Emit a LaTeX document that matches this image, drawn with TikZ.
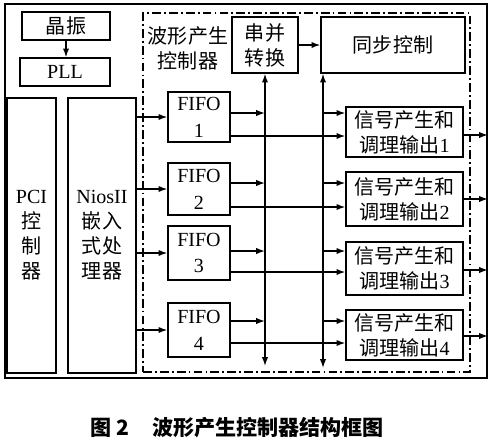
\documentclass[tikz,border=0pt]{standalone}
\usepackage{fontspec}
\setmainfont{Noto Sans CJK SC}
\newfontfamily\lat{Liberation Serif}
\usetikzlibrary{arrows.meta}
\begin{document}
\begin{tikzpicture}[x=0.02cm,y=-0.02cm,
  txt/.style={font=\fontsize{11.4}{14.2}\selectfont},
  box/.style={draw, line width=0.8pt, inner sep=0pt, align=center, txt},
  fifo/.style={box, font=\lat\fontsize{11.4}{15.3}\selectfont},
  sz/.style 2 args={minimum width=#1*0.02cm, minimum height=#2*0.02cm},
  arr/.style={line width=0.8pt, -{Latex[length=5pt,width=3.6pt]}},
  bus/.style={line width=0.8pt, {Latex[length=5pt,width=3.6pt]}-{Latex[length=5pt,width=3.6pt]}},
  dashdot box/.style={draw, line width=0.8pt, dash pattern=on 5pt off 1.8pt on 1pt off 1.8pt},
  captxt/.style={font=\bfseries\fontsize{12}{14}\selectfont}
]
\useasboundingbox (0,0) rectangle (500,447);
\fill[white] (0,0) rectangle (500,447);

% outer frame and controller region
\node[draw, line width=1pt, inner sep=0pt, sz={482}{374}] (frame) at (246,191) {};
\node[dashdot box, inner sep=0pt, sz={327}{359}] (wg) at (306.5,192.5) {};

% left blocks
\node[box, sz={88}{28}] (xtal) at (66,26) {晶振};
\node[box, sz={90}{28}] (pll) at (65,72) {\lat PLL};
\node[box, sz={49}{275}] (pci) at (31.5,235.5) {{\lat PCI}\\控\\制\\器};
\node[box, sz={68}{275}] (nios) at (102,235.5) {{\lat NiosII}\\嵌入\\式处\\理器};

% controller blocks
\node[txt, align=center, inner sep=0pt] (lbl) at (188,48) {波形产生\\控制器};
\node[box, sz={66}{56}] (sp) at (265,45) {串并\\转换};
\node[box, sz={144}{56}] (sync) at (393,45) {同步控制};

\node[fifo, sz={62}{50}] (f1) at (199,117) {FIFO\\1};
\node[fifo, sz={62}{52}] (f2) at (199,189) {FIFO\\2};
\node[fifo, sz={62}{54}] (f3) at (199,253) {FIFO\\3};
\node[fifo, sz={62}{54}] (f4) at (199,330) {FIFO\\4};

\node[box, sz={117}{50}] (s1) at (404.5,132) {信号产生和\\调理输出{\lat 1}};
\node[box, sz={117}{54}] (s2) at (404.5,199) {信号产生和\\调理输出{\lat 2}};
\node[box, sz={117}{53}] (s3) at (404.5,268.5) {信号产生和\\调理输出{\lat 3}};
\node[box, sz={117}{50}] (s4) at (404.5,335) {信号产生和\\调理输出{\lat 4}};

% connectors
\draw[arr] (xtal.south) -- (xtal.south |- pll.north);
\foreach \i in {1,...,4} {
  \draw[arr] (nios.east |- f\i.west) -- (f\i.west);
}
\coordinate (ba) at (265,366);
\coordinate (bb) at (323,368);
\draw[bus] (ba) -- (sp.south);
\draw[bus] (bb) -- (bb |- sync.south);
\draw[arr] (sp) -- (sync);

\foreach \i/\u/\l/\o in {1/113/136/135, 2/183/207/199, 3/251/272/270, 4/321/343/336} {
  \coordinate (u\i) at (0,\u);
  \coordinate (l\i) at (0,\l);
  \coordinate (o\i) at (0,\o);
  \draw[arr] (f\i.east |- u\i) -- (ba |- u\i);
  \draw[arr] (f\i.east |- l\i) -- (s\i.west |- l\i);
  \draw[arr] (bb |- u\i) -- (s\i.west |- u\i);
  \draw[arr] (s\i.east |- o\i) -- (frame.east |- o\i);
}

% caption
\node[captxt, inner sep=0pt] (fig) at (109.5,428) {图 2};
\node[captxt, inner sep=0pt] (cap) at (268,428) {波形产生控制器结构框图};
\end{tikzpicture}
\end{document}
